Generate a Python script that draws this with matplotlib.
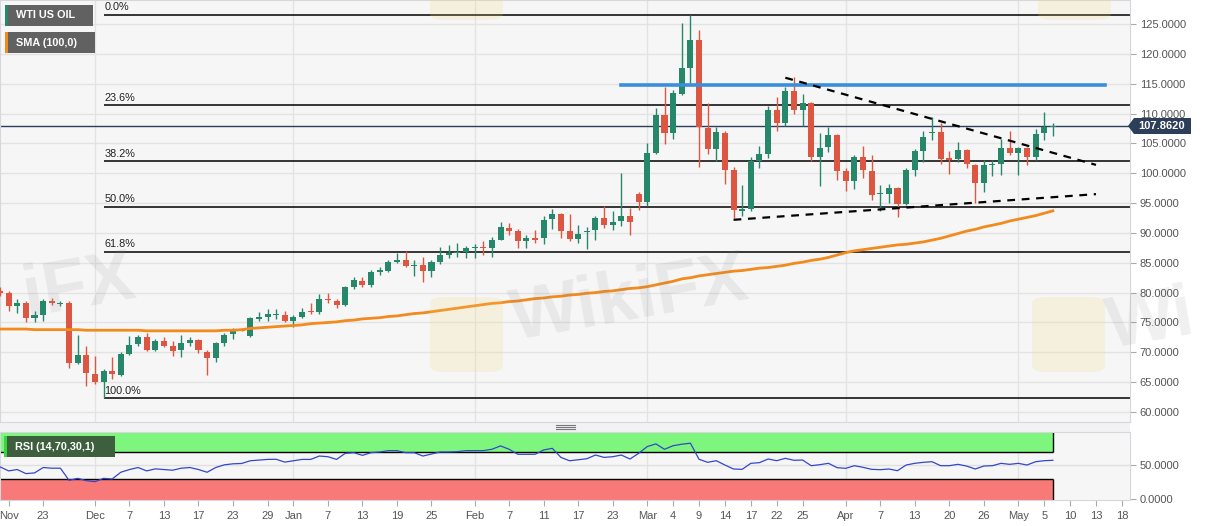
import pandas as pd
import matplotlib
matplotlib.use('Agg')
import matplotlib.pyplot as plt
from matplotlib.lines import Line2D
from matplotlib.patches import Rectangle, FancyBboxPatch, Polygon

plt.rcParams['font.family'] = ['Liberation Sans', 'DejaVu Sans']

# daily candles, 16 Nov 2021 .. 6 May 2022 (Good Friday missing)
opens = [80.3, 79.9, 77.8, 78.3, 75.7, 76.3, 78.6, 78.1, 78.3, 68.2, 69.6,
         66.3, 65.1, 66.8, 66.2, 69.7, 71.4, 72.5, 70.4, 71.9, 71.1, 70.4,
         71.5, 72.0, 70.1, 69.0, 71.5, 73.0, 73.8, 72.7, 75.6, 75.9, 76.2,
         76.3, 75.3, 75.9, 77.0, 76.8, 79.0, 78.6, 77.9, 80.9, 81.9, 81.2,
         83.5, 83.7, 85.1, 85.4, 84.5, 84.6, 83.6, 85.2, 86.3, 86.6, 86.8,
         87.5, 87.7, 87.5, 88.9, 90.8, 90.4, 88.7, 89.2, 89.1, 92.3, 93.2,
         90.4, 89.0, 90.1, 90.5, 92.5, 91.3, 92.0, 92.8, 96.5, 95.1, 103.4,
         109.75, 106.8, 113.2, 117.7, 122.4, 107.6, 104.0, 106.8, 100.55, 93.7, 94.0,
         102.1, 103.3, 110.6, 108.4, 113.8, 110.6, 111.8, 102.8, 104.4, 106.4, 100.4,
         98.75, 102.8, 100.4, 96.5, 96.6, 97.5, 94.85, 100.55, 103.7, 106.7, 106.9,
         102.5, 102.4, 103.9, 101.4, 98.4, 101.35, 101.55, 104.3, 103.45, 104.2, 102.7, 106.7, 107.8]
highs = [81.0, 80.3, 78.9, 78.6, 77.0, 78.9, 79.1, 78.6, 78.6, 72.9, 71.0,
         69.4, 67.2, 69.2, 70.1, 72.7, 72.9, 73.2, 72.2, 72.6, 71.9, 72.9,
         72.6, 72.2, 70.4, 71.8, 73.2, 74.1, 73.9, 75.9, 76.8, 77.2, 77.3,
         76.9, 76.3, 77.5, 78.3, 79.8, 80.0, 79.0, 81.1, 82.6, 82.6, 83.8,
         84.3, 85.5, 86.7, 86.9, 85.4, 85.9, 85.5, 87.6, 88.0, 88.3, 87.8,
         88.2, 88.7, 89.3, 91.8, 91.6, 90.6, 89.7, 90.5, 92.8, 94.0, 93.3,
         93.1, 91.3, 91.0, 92.8, 94.5, 93.6, 100.0, 94.2, 96.9, 105.1, 110.9,
         114.5, 114.0, 125.1, 126.5, 124.0, 111.8, 107.8, 107.0, 101.1, 98.0, 102.7,
         104.5, 111.2, 112.8, 114.5, 116.1, 113.3, 112.0, 106.8, 107.7, 106.6, 100.8,
         103.1, 104.6, 103.1, 98.0, 98.2, 97.75, 100.8, 104.0, 107.0, 109.4, 108.4,
         103.8, 105.3, 104.0, 101.55, 102.2, 102.3, 105.7, 107.1, 104.35, 104.45, 107.4, 110.3, 108.4]
lows = [79.5, 77.0, 76.6, 75.1, 75.0, 75.3, 77.9, 77.8, 67.4, 68.0, 64.3,
        64.7, 62.3, 65.5, 66.0, 69.6, 71.0, 70.2, 70.2, 70.9, 69.4, 69.3,
        71.0, 69.9, 66.2, 68.4, 71.0, 72.2, 73.5, 72.5, 75.3, 75.3, 75.5,
        75.0, 74.3, 75.7, 76.4, 76.5, 78.3, 77.5, 77.8, 80.6, 80.9, 81.0,
        83.0, 83.5, 85.0, 84.3, 82.8, 81.8, 82.7, 84.8, 85.8, 86.0, 85.8,
        85.8, 86.3, 86.0, 88.8, 89.7, 87.4, 87.4, 88.3, 88.2, 90.6, 89.1,
        88.7, 88.3, 87.3, 88.9, 90.8, 90.5, 91.2, 89.65, 93.8, 94.5, 103.3,
        104.9, 105.7, 113.1, 115.1, 101.1, 103.2, 102.1, 98.2, 92.45, 92.8, 93.6,
        100.8, 102.5, 107.1, 107.9, 109.9, 107.9, 102.1, 97.9, 103.6, 98.9, 97.1,
        97.3, 99.2, 95.5, 93.6, 95.0, 92.6, 94.7, 99.5, 101.9, 105.6, 101.55,
        99.9, 101.9, 100.8, 95.0, 96.9, 99.5, 99.7, 103.05, 99.7, 101.4, 102.2, 105.6, 106.2]
closes = [79.9, 77.7, 78.3, 75.7, 76.3, 78.6, 78.2, 78.3, 68.2, 69.6, 66.5,
          65.1, 66.8, 66.3, 69.7, 71.2, 72.5, 70.4, 71.9, 71.1, 70.3, 71.5,
          72.0, 70.4, 69.0, 71.5, 72.9, 73.7, 73.6, 75.7, 76.0, 76.4, 76.5,
          75.3, 75.9, 76.8, 76.7, 79.0, 78.7, 77.9, 80.9, 82.1, 81.2, 83.5,
          83.8, 85.2, 85.4, 84.5, 84.6, 83.6, 85.2, 86.3, 86.6, 86.8, 87.5,
          87.6, 87.4, 88.9, 91.0, 90.4, 88.7, 89.1, 88.9, 92.2, 93.2, 90.4,
          89.0, 89.8, 90.3, 92.5, 91.3, 91.9, 92.8, 91.9, 95.2, 103.4, 109.75,
          106.8, 113.5, 117.6, 122.4, 107.8, 104.0, 106.9, 100.55, 93.85, 94.0, 102.1,
          103.2, 110.6, 108.4, 113.8, 110.6, 111.8, 102.8, 104.3, 106.4, 100.4, 98.75,
          102.8, 100.55, 96.4, 96.6, 97.5, 94.85, 100.55, 103.7, 106.0, 106.9, 102.4,
          102.3, 103.9, 101.55, 98.4, 101.4, 101.55, 104.3, 103.45, 104.2, 102.7, 106.6, 107.7, 107.862]

sma100 = [73.9, 73.9, 73.9, 73.9, 73.8, 73.8, 73.8, 73.8, 73.8, 73.8, 73.7,
          73.7, 73.7, 73.7, 73.7, 73.7, 73.7, 73.6, 73.6, 73.6, 73.6, 73.6,
          73.6, 73.6, 73.6, 73.6, 73.7, 73.7, 73.8, 74.0, 74.1, 74.2, 74.3,
          74.4, 74.5, 74.6, 74.8, 74.9, 75.0, 75.1, 75.3, 75.4, 75.6, 75.7,
          75.8, 76.0, 76.1, 76.3, 76.5, 76.6, 76.8, 77.0, 77.2, 77.4, 77.6,
          77.8, 78.0, 78.2, 78.3, 78.5, 78.6, 78.8, 79.0, 79.1, 79.3, 79.4,
          79.6, 79.7, 79.9, 80.0, 80.2, 80.3, 80.5, 80.7, 80.8, 81.0, 81.3,
          81.6, 81.9, 82.3, 82.5, 82.8, 83.0, 83.2, 83.4, 83.6, 83.7, 83.9,
          84.1, 84.2, 84.4, 84.6, 84.9, 85.1, 85.4, 85.6, 85.9, 86.3, 86.7,
          87.0, 87.2, 87.4, 87.6, 87.8, 88.0, 88.1, 88.3, 88.5, 88.8, 89.1,
          89.5, 89.9, 90.3, 90.6, 91.0, 91.3, 91.6, 92.0, 92.3, 92.6, 92.9, 93.3, 93.7]

rsi = [48, 42, 44, 38, 39, 47, 46, 46, 28, 31, 27.5,
       26, 31, 30, 40, 44, 47, 42, 45, 44, 43, 46,
       47, 44, 40, 47, 51, 52.5, 53, 57, 58, 59, 59.2,
       55, 57, 59, 59, 64, 63, 59, 68, 69, 65, 69,
       70, 72, 72, 69, 69, 64, 67, 70, 70, 70.5, 72,
       72, 72, 74, 79, 74, 66.6, 66.6, 66.6, 73, 75.4, 62,
       57, 58.5, 60, 65.5, 62, 63, 65.5, 59.6, 68, 78, 82,
       74, 79.3, 81.5, 83, 59.2, 54.7, 57.1, 50.7, 44.8, 44.3, 53.2,
       54.2, 59.6, 57.1, 60.6, 57.7, 58.1, 49.7, 51.2, 53.2, 46.8, 45.8,
       49.7, 47.3, 44.3, 43.8, 44.8, 42.3, 50.7, 53.2, 54.7, 55.6, 49.7,
       49.7, 51.7, 49.2, 44.8, 49.2, 49.7, 53.2, 51.7, 53.2, 50.7, 55.6, 57.1, 57.7]

tick_days = ['2021-11-17', '2021-11-23', '2021-12-01', '2021-12-07', '2021-12-13', '2021-12-17',
             '2021-12-23', '2021-12-29', '2022-01-03', '2022-01-07', '2022-01-13', '2022-01-19',
             '2022-01-25', '2022-02-01', '2022-02-07', '2022-02-11', '2022-02-17', '2022-02-23',
             '2022-03-01', '2022-03-04', '2022-03-09', '2022-03-14', '2022-03-17', '2022-03-22',
             '2022-03-25', '2022-04-01', '2022-04-07', '2022-04-13', '2022-04-20', '2022-04-26',
             '2022-05-02', '2022-05-05', '2022-05-10', '2022-05-13', '2022-05-18']
tick_labels = ['Nov', '23', 'Dec', '7', '13', '17', '23', '29', 'Jan', '7', '13', '19', '25',
               'Feb', '7', '11', '17', '23', 'Mar', '4', '9', '14', '17', '22', '25',
               'Apr', '7', '13', '20', '26', 'May', '5', '10', '13', '18']
month_starts = ['2021-12-01', '2022-01-03', '2022-02-01', '2022-03-01', '2022-04-01', '2022-05-02']

fib_pcts = [0.0, 23.6, 38.2, 50.0, 61.8, 100.0]
fib_start = '2021-12-02'
upper_trend = (['2022-03-23', '2022-05-13'], [116.0, 101.4])
lower_trend = (['2022-03-15', '2022-05-13'], [92.2, 96.5])
resistance = (['2022-02-24', '2022-05-16'], 114.75)
last_price = 107.862

# trading-day axis (weekends and Good Friday skipped)
days = [d for d in pd.bdate_range('2021-11-16', '2022-05-20') if d != pd.Timestamp('2022-04-15')]
pos = {d.strftime('%Y-%m-%d'): k for k, d in enumerate(days)}
n = len(closes)
xs = list(range(n))

W, H = 1207, 526
fig = plt.figure(figsize=(W / 100, H / 100), dpi=100, facecolor='white')


def rect(x0, y0, x1, y1):
    return [x0 / W, 1 - y1 / H, (x1 - x0) / W, (y1 - y0) / H]


ax = fig.add_axes(rect(0, 0, 1130, 422))
rax = fig.add_axes(rect(0, 432, 1130, 500), sharex=ax)
for a in (ax, rax):
    a.set_facecolor('#f6f6f6')
    for s in a.spines.values():
        s.set_color('#d5d7df')
    for m in month_starts:
        a.axvline(pos[m], color='#e3e3e3', lw=1, zorder=0)

ax.set_xlim(0, 130.94)
ax.set_ylim(58.33, 129.02)
ax.set_yticks(range(60, 130, 5))
ax.set_yticklabels(['%.4f' % v for v in range(60, 130, 5)])
ax.yaxis.tick_right()
ax.tick_params(axis='y', length=4, color='#aaaaaa', labelcolor='#555555', labelsize=8, pad=3)
ax.tick_params(axis='x', bottom=False, labelbottom=False)
ax.yaxis.grid(True, color='#e3e3e3', lw=1)
ax.set_axisbelow(True)

# candles
up, dn = '#27876b', '#dd5641'
cols = [up if c >= o else dn for o, c in zip(opens, closes)]
ax.vlines(xs, lows, highs, colors=cols, lw=1, zorder=3)
ax.bar(xs, [max(abs(c - o), 0.18) for o, c in zip(opens, closes)],
       bottom=[min(o, c) for o, c in zip(opens, closes)],
       width=0.7, color=cols, linewidth=0, zorder=4)

ax.plot(xs, sma100, color='#f28a1d', lw=2, zorder=5)

# fibonacci retracement
hi, lo = max(highs), min(lows)
for p in fib_pcts:
    lvl = hi - p / 100 * (hi - lo)
    ax.hlines(lvl, pos[fib_start], 131, color='black', lw=1.1, zorder=2)
    ax.annotate('%.1f%%' % p, (pos[fib_start] + 0.1, lvl), xytext=(0, 2),
                textcoords='offset points', fontsize=7.8, color='#222222', va='bottom')

ax.axhline(last_price, color='#2d3e58', lw=1, zorder=2)
ax.plot([pos[d] for d in resistance[0]], [resistance[1]] * 2, color='#3a8fdc', lw=2.6, zorder=6)
for days_, vals in (upper_trend, lower_trend):
    ax.plot([pos[d] for d in days_], vals, color='black', lw=1.6,
            linestyle=(0, (3.5, 3)), zorder=6)

# RSI panel
rax.set_ylim(-1.1, 99.6)
rax.add_patch(Rectangle((0, 70), n - 1, 31, facecolor='#7ef57c', edgecolor='none', zorder=1))
rax.add_patch(Rectangle((0, -2), n - 1, 32, facecolor='#f87a78', edgecolor='none', zorder=1))
rax.hlines([70, 30], 0, n - 1, color='black', lw=1, zorder=2)
rax.vlines(n - 1, 70, 101, color='black', lw=1, zorder=2)
rax.vlines(n - 1, -2, 30, color='black', lw=1, zorder=2)
rax.axhline(50, color='#e0e0e0', lw=1, zorder=0)
rax.plot(xs, rsi, color='#3347cc', lw=0.9, zorder=3)
rax.yaxis.tick_right()
rax.set_yticks([0, 50])
rax.set_yticklabels(['0.0000', '50.0000'])
rax.tick_params(axis='y', length=4, color='#aaaaaa', labelcolor='#555555', labelsize=8, pad=3)
rax.set_xticks([pos[d] for d in tick_days])
rax.set_xticklabels(tick_labels)
rax.tick_params(axis='x', length=4, color='#aaaaaa', labelcolor='#555555', labelsize=8, pad=4)

# legend boxes
def label_box(x0, y0, x1, y1, text, bg, edge):
    fig.add_artist(Rectangle((x0 / W, 1 - y1 / H), (x1 - x0) / W, (y1 - y0) / H,
                             transform=fig.transFigure, facecolor=bg, edgecolor='none', zorder=10))
    fig.add_artist(Rectangle((x0 / W, 1 - y1 / H), 2.5 / W, (y1 - y0) / H,
                             transform=fig.transFigure, facecolor=edge, edgecolor='none', zorder=11))
    fig.text((x0 + 11) / W, 1 - (y0 + y1) / 2 / H, text, color='white', fontsize=7.8,
             fontweight='bold', va='center', ha='left', zorder=12)


label_box(5, 5, 93, 26, 'WTI US OIL', '#616161', up)
label_box(5, 32, 95, 53, 'SMA (100,0)', '#616161', '#f28a1d')
label_box(4, 436, 115, 457, 'RSI (14,70,30,1)', '#3d5f3d', '#39d639')

# last price tag
fig.add_artist(Polygon([(1128 / W, 1 - 126 / H), (1134 / W, 1 - 118 / H), (1191 / W, 1 - 118 / H),
                        (1191 / W, 1 - 134 / H), (1134 / W, 1 - 134 / H)],
                       closed=True, transform=fig.transFigure, facecolor='#2d3e58',
                       edgecolor='none', zorder=10))
fig.text(1162 / W, 1 - 126 / H, '%.4f' % last_price, color='white', fontsize=8,
         fontweight='bold', ha='center', va='center', zorder=12)

# panel splitter
fig.add_artist(Rectangle((0, 1 - 432 / H), 1130 / W, 10 / H, transform=fig.transFigure,
                         facecolor='#f2f2f4', edgecolor='none', zorder=-1))
for yy in (425, 427, 429):
    fig.add_artist(Line2D([556 / W, 575 / W], [1 - yy / H] * 2, color='#777777', lw=0.8))

# watermark (only the parts visible in the frame)
for (wx, wy, ha, word) in ((140, 288, 'right', 'iFX'), (630, 300, 'center', 'WikiFX'),
                           (1102, 322, 'left', 'Wi')):
    fig.text(wx / W, 1 - wy / H, word, fontsize=52, fontweight='bold', color='#888888',
             alpha=0.13, rotation=10, ha=ha, va='center', zorder=20)
for (bx, by) in ((430, 297), (1032, 297), (430, -55), (1038, -55)):
    fig.add_artist(FancyBboxPatch((bx / W, 1 - (by + 75) / H), 73 / W, 75 / H,
                                  boxstyle='round,pad=0,rounding_size=0.012',
                                  transform=fig.transFigure, facecolor='#f5d76e',
                                  edgecolor='none', alpha=0.18, zorder=19))

fig.savefig('out.png', dpi=100, facecolor='white')
